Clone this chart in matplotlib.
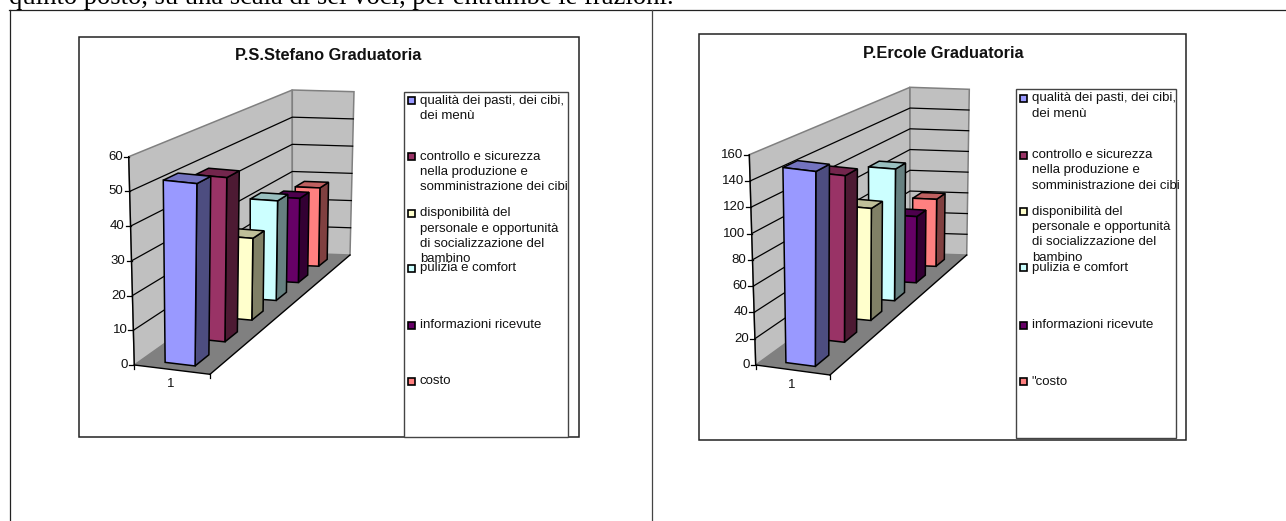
import matplotlib
matplotlib.use('Agg')
import matplotlib.pyplot as plt
from matplotlib.patches import Polygon, Rectangle

# Survey data, one value per criterion
CRITERIA_LEFT = [
    'qualità dei pasti, dei cibi,\ndei menù',
    'controllo e sicurezza\nnella produzione e\nsomministrazione dei cibi',
    'disponibilità del\npersonale e opportunità\ndi socializzazione del\nbambino',
    'pulizia e comfort',
    'informazioni ricevute',
    'costo',
]
CRITERIA_RIGHT = CRITERIA_LEFT[:5] + ['"costo']
VALUES_LEFT = [53, 50, 26, 33, 29, 28]
VALUES_RIGHT = [150, 134, 94, 115, 60, 63]
TICKS_LEFT = [0, 10, 20, 30, 40, 50, 60]
TICKS_RIGHT = [0, 20, 40, 60, 80, 100, 120, 140, 160]
TITLE_LEFT = 'P.S.Stefano Graduatoria'
TITLE_RIGHT = 'P.Ercole Graduatoria'
CATEGORY = '1'

HEADER_TEXT = 'quinto posto, su una scala di sei voci, per entrambe le frazioni.'

# Excel palette: front face colours of the columns and their swatches
FRONT_COLORS = ['#9999FF', '#993366', '#FFFFCC', '#CCFFFF', '#660066', '#FF8080']

WIDTH, HEIGHT = 1286, 521
DEPTH_WARP = 0.75      # foreshortening along the depth axis
BAR_START = 0.22       # offset of a column inside its depth slot
BAR_DEPTH = 0.45
BAR_U = (0.31, 0.71)   # column extent across the floor
LABEL_SIZE = 9.5

# Pixel positions of the plot box corners for each chart
BOX_LEFT = {
    'floor': [(134.3, 365), (210, 374.3), (350, 255), (292.3, 253)],
    'top': [(128.7, 156.7), (None, None), (354, 91.7), (292.3, 90)],
}
BOX_RIGHT = {
    'floor': [(755.7, 365), (830, 375), (966.7, 255), (910, 253.3)],
    'top': [(749.3, 154.7), (None, None), (969.3, 89.3), (910, 87.3)],
}


def shade(color, factor):
    """Darken a hex colour by a factor."""
    r, g, b = matplotlib.colors.to_rgb(color)
    return (r * factor, g * factor, b * factor)


def make_projection(box, vmax):
    """Return a function mapping (across, depth, value) to pixels."""
    fl, fr, br, bl = box['floor']
    tl, _, tr, tb = box['top']

    def lerp(a, b, t):
        return (a[0] + (b[0] - a[0]) * t, a[1] + (b[1] - a[1]) * t)

    # The hidden top corner follows from the three visible ones
    scale_front = (fl[1] - tl[1]) / (bl[1] - tb[1])
    tf = (fr[0] + (tr[0] - br[0]) * scale_front,
          fr[1] + (tr[1] - br[1]) * scale_front)

    def project(u, t, v):
        bottom = lerp(lerp(fl, fr, u), lerp(bl, br, u), t)
        top = lerp(lerp(tl, tf, u), lerp(tb, tr, u), t)
        return lerp(bottom, top, v / vmax)

    return project


def warp(s):
    """Depth slot position to perspective position."""
    return s / (s + DEPTH_WARP * (1 - s))


def draw_walls(ax, project, ticks):
    vmax = ticks[-1]
    wall = '#C0C0C0'
    ax.add_patch(Polygon([project(0, 0, 0), project(0, 1, 0), project(0, 1, vmax), project(0, 0, vmax)],
                         fc=wall, ec='#808080', lw=1.1, zorder=1))
    ax.add_patch(Polygon([project(0, 1, 0), project(1, 1, 0), project(1, 1, vmax), project(0, 1, vmax)],
                         fc=wall, ec='#808080', lw=1.1, zorder=1))
    ax.add_patch(Polygon([project(0, 0, 0), project(1, 0, 0), project(1, 1, 0), project(0, 1, 0)],
                         fc='#808080', ec='none', zorder=1.1))

    # Gridlines run along both walls, under the columns
    for tick in ticks[1:-1]:
        xs, ys = zip(project(0, 0, tick), project(0, 1, tick), project(1, 1, tick))
        ax.plot(xs, ys, color='black', lw=0.9, zorder=1.2)

    # Front axis lines and tick marks
    for start, end in [((0, 0, 0), (0, 0, vmax)), ((0, 0, 0), (1, 0, 0)), ((1, 0, 0), (1, 1, 0))]:
        xs, ys = zip(project(*start), project(*end))
        ax.plot(xs, ys, color='black', lw=1.0, zorder=1.3)
    for tick in ticks:
        x, y = project(0, 0, tick)
        ax.plot([x - 5, x], [y, y], color='black', lw=0.9, zorder=1.3)
        ax.text(x - 6, y, str(tick), ha='right', va='center', fontsize=LABEL_SIZE, color='#111111')
    for u in (0, 1):
        x, y = project(u, 0, 0)
        ax.plot([x, x], [y, y + 4], color='black', lw=0.9, zorder=1.3)


def draw_bars(ax, project, values):
    # Painted from the back so nearer columns cover farther ones
    n = len(values)
    for i in reversed(range(n)):
        value = values[i]
        color = FRONT_COLORS[i]
        t0 = warp((i + BAR_START) / n)
        t1 = warp((i + BAR_START + BAR_DEPTH) / n)
        u0, u1 = BAR_U
        side = [project(u1, t0, 0), project(u1, t1, 0), project(u1, t1, value), project(u1, t0, value)]
        top = [project(u0, t0, value), project(u1, t0, value), project(u1, t1, value), project(u0, t1, value)]
        front = [project(u0, t0, 0), project(u1, t0, 0), project(u1, t0, value), project(u0, t0, value)]
        for face, fill in [(side, shade(color, 0.5)), (top, shade(color, 0.75)), (front, color)]:
            ax.add_patch(Polygon(face, fc=fill, ec='black', lw=1.1, zorder=2))


def draw_legend(ax, labels, box, swatch_x, text_x, centers):
    x0, y0, x1, y1 = box
    ax.add_patch(Rectangle((x0, y0), x1 - x0, y1 - y0, fc='white', ec='#444444', lw=1.0, zorder=1))
    for label, color, yc in zip(labels, FRONT_COLORS, centers):
        ax.add_patch(Rectangle((swatch_x, yc - 3.5), 7, 7, fc=color, ec='black', lw=1.2, zorder=2))
        for k, line in enumerate(label.split('\n')):
            ax.text(text_x, yc + 15.3 * k, line, ha='left', va='center', fontsize=LABEL_SIZE, color='#111111')


def draw_chart(ax, frame, box, values, ticks, labels, title, title_pos, cat_pos, legend):
    x0, y0, x1, y1 = frame
    ax.add_patch(Rectangle((x0, y0), x1 - x0, y1 - y0, fc='white', ec='#222222', lw=1.1, zorder=0.5))
    ax.text(title_pos[0], title_pos[1], title, ha='center', va='center', fontsize=11.8,
            fontweight='bold', color='#111111')
    project = make_projection(box, ticks[-1])
    draw_walls(ax, project, ticks)
    draw_bars(ax, project, values)
    ax.text(cat_pos[0], cat_pos[1], CATEGORY, ha='center', va='center', fontsize=LABEL_SIZE, color='#111111')
    draw_legend(ax, labels, **legend)


def main():
    plt.rcParams['font.family'] = ['Liberation Sans', 'DejaVu Sans']
    fig = plt.figure(figsize=(WIDTH / 100, HEIGHT / 100), dpi=100)
    ax = fig.add_axes([0, 0, 1, 1])
    ax.set_xlim(0, WIDTH)
    ax.set_ylim(HEIGHT, 0)
    ax.axis('off')

    # Page text above the table, cut by the top edge
    ax.text(9, 3.5, HEADER_TEXT, family='Liberation Serif', fontsize=19.2, ha='left', va='baseline', color='black')

    # Table rules
    ax.plot([9, WIDTH], [9.5, 9.5], color='#222222', lw=0.9)
    ax.plot([9.5, 9.5], [9.5, HEIGHT], color='#222222', lw=0.9)
    ax.plot([651.7, 651.7], [9.5, HEIGHT], color='#444444', lw=0.9)

    draw_chart(ax, (79, 36.5, 578.5, 437), BOX_LEFT, VALUES_LEFT, TICKS_LEFT, CRITERIA_LEFT,
               TITLE_LEFT, (328, 55), (171, 384),
               dict(box=(403.5, 91.7, 568, 437), swatch_x=407.5, text_x=420,
                    centers=[100.7, 156.7, 213.3, 268.3, 325, 381]))
    draw_chart(ax, (698.5, 33.5, 1186, 440), BOX_RIGHT, VALUES_RIGHT, TICKS_RIGHT, CRITERIA_RIGHT,
               TITLE_RIGHT, (943, 53.3), (792, 385),
               dict(box=(1015.7, 89.3, 1176, 438), swatch_x=1020, text_x=1031.7,
                    centers=[98.3, 155, 211.7, 267.7, 325, 381.7]))

    fig.savefig('out.png', dpi=100, facecolor='white')


if __name__ == '__main__':
    main()
